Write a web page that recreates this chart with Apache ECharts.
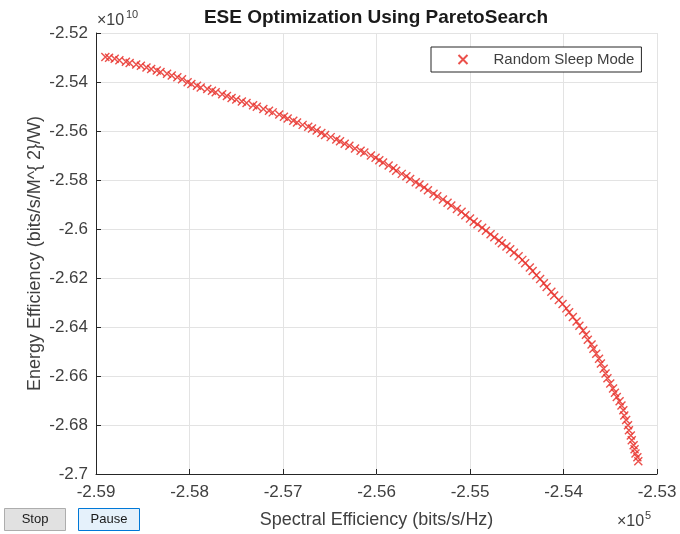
<!DOCTYPE html>
<html>
<head>
<meta charset="utf-8">
<title>ESE Optimization Using ParetoSearch</title>
<script src="https://cdn.jsdelivr.net/npm/echarts@6.0.0/dist/echarts.min.js"></script>
<style>
  html, body { margin: 0; padding: 0; background: #fff; }
  #paretoChart { width: 680px; height: 534px; }
</style>
</head>
<body>
<div id="paretoChart"></div>
<script>
// spectral efficiency (x 10^5 bits/s/Hz)
var spectralEff = [
  -2.5890, -2.5886, -2.5880, -2.5875, -2.5868, -2.5864, -2.5857, -2.5852, -2.5846, -2.5841,
  -2.5835, -2.5831, -2.5824, -2.5819, -2.5813, -2.5808,
  -2.5802, -2.5798, -2.5792, -2.5788, -2.5781, -2.5776, -2.5772, -2.5765, -2.5760,
  -2.5755, -2.5750, -2.5744, -2.5739, -2.5732, -2.5728, -2.5721, -2.5715, -2.5711, -2.5704,
  -2.5699, -2.5695, -2.5689, -2.5685, -2.5679, -2.5673, -2.5669, -2.5664,
  -2.5659, -2.5655, -2.5649, -2.5643, -2.5639, -2.5634, -2.5629, -2.5623, -2.5617, -2.5613, -2.5606, -2.5601,
  -2.5597, -2.5593, -2.5587, -2.5582, -2.5579, -2.5573, -2.5568, -2.5564, -2.5558, -2.5554,
  -2.5549, -2.5545, -2.5539, -2.5535, -2.5529, -2.5524, -2.5520, -2.5514, -2.5509, -2.5505, -2.5500,
  -2.5496, -2.5492, -2.5487, -2.5483, -2.5478, -2.5474, -2.5469, -2.5466,
  -2.5461, -2.5457, -2.5453, -2.5448,
  -2.5444, -2.5441, -2.5436, -2.5433, -2.5429, -2.5425,
  -2.5421, -2.5418, -2.5413, -2.5410, -2.5405, -2.5401,
  -2.5397, -2.5394, -2.5390, -2.5386, -2.5383,
  -2.5379, -2.5376, -2.5374, -2.5370, -2.5368,
  -2.5365, -2.5362, -2.5360, -2.5357,
  -2.5355, -2.5353, -2.5350, -2.5347,
  -2.5345, -2.5343, -2.5340, -2.5338,
  -2.5336, -2.5335, -2.5333, -2.5331,
  -2.5330, -2.5328, -2.5327, -2.5325,
  -2.5324, -2.5323, -2.5321, -2.5320
];

// energy efficiency (x 10^10 bits/s/M^2/W)
var energyEff = [
  -2.5298, -2.5301, -2.5305, -2.5311, -2.5317, -2.5322, -2.5329, -2.5334, -2.5341, -2.5347,
  -2.5353, -2.5359, -2.5366, -2.5373, -2.5381, -2.5389,
  -2.5401, -2.5408, -2.5415, -2.5422, -2.5429, -2.5436, -2.5442, -2.5450, -2.5457,
  -2.5465, -2.5471, -2.5480, -2.5486, -2.5495, -2.5501, -2.5510, -2.5517, -2.5524, -2.5533,
  -2.5542, -2.5549, -2.5558, -2.5565, -2.5575, -2.5583, -2.5590, -2.5598,
  -2.5608, -2.5616, -2.5625, -2.5635, -2.5642, -2.5652, -2.5660, -2.5671, -2.5681, -2.5688, -2.5700, -2.5709,
  -2.5719, -2.5729, -2.5741, -2.5752, -2.5762, -2.5775, -2.5785, -2.5796, -2.5809, -2.5818,
  -2.5831, -2.5842, -2.5856, -2.5866, -2.5880, -2.5893, -2.5904, -2.5918, -2.5930, -2.5944, -2.5957,
  -2.5970, -2.5981, -2.5995, -2.6007, -2.6021, -2.6034, -2.6047, -2.6058,
  -2.6071, -2.6083, -2.6097, -2.6111,
  -2.6126, -2.6140, -2.6157, -2.6171, -2.6189, -2.6204,
  -2.6221, -2.6237, -2.6256, -2.6271, -2.6290, -2.6306,
  -2.6324, -2.6340, -2.6359, -2.6378, -2.6395,
  -2.6414, -2.6432, -2.6452, -2.6471, -2.6489,
  -2.6509, -2.6530, -2.6549, -2.6570,
  -2.6590, -2.6609, -2.6631, -2.6651,
  -2.6668, -2.6686, -2.6703, -2.6720,
  -2.6740, -2.6761, -2.6780, -2.6801,
  -2.6821, -2.6843, -2.6862, -2.6883,
  -2.6899, -2.6916, -2.6932, -2.6948
];

var xTicks = { min: -2.59, max: -2.53, step: 0.01 };
var yTicks = { min: -2.7, max: -2.52, step: 0.02 };

var points = spectralEff.map(function (x, i) {
  return [x, energyEff[i]];
});

var crossMark = 'path://M0,0L10,10M10,0L0,10';
var textColor = '#404040';
var fontName = '"Liberation Sans", Arial, Helvetica, sans-serif';

function tickText(v) {
  return String(parseFloat(v.toFixed(2)));
}

var myChart = echarts.init(document.getElementById('paretoChart'));
myChart.setOption({
  animation: false,
  textStyle: { fontFamily: fontName },
  grid: {
    left: 96,
    right: 23,
    top: 33,
    bottom: 58,
    containLabel: false
  },
  legend: {
    left: 431,
    top: 47,
    padding: [5, 7, 5, 25],
    itemWidth: 9,
    itemHeight: 9,
    backgroundColor: '#fff',
    borderColor: '#262626',
    borderWidth: 1,
    borderRadius: 0,
    textStyle: {
      fontSize: 15,
      color: textColor,
      fontFamily: fontName,
      padding: [0, 0, 0, 21]
    },
    data: ['Random Sleep Mode']
  },
  xAxis: {
    type: 'value',
    min: xTicks.min,
    max: xTicks.max,
    interval: xTicks.step,
    name: 'Spectral Efficiency (bits/s/Hz)',
    nameLocation: 'middle',
    nameGap: 37,
    nameMoveOverlap: false,
    nameTextStyle: { fontSize: 18, color: textColor, fontFamily: fontName },
    axisLine: { show: true, onZero: false, lineStyle: { color: '#262626', width: 1 } },
    axisTick: { show: true, inside: true, length: 5, lineStyle: { color: '#262626' } },
    axisLabel: {
      margin: 10,
      fontSize: 17,
      color: textColor,
      fontFamily: fontName,
      formatter: tickText
    },
    splitLine: { show: true, lineStyle: { color: '#e3e3e3', width: 1 } }
  },
  yAxis: {
    type: 'value',
    min: yTicks.min,
    max: yTicks.max,
    interval: yTicks.step,
    name: 'Energy Efficiency (bits/s/M^{ 2}/W)',
    nameLocation: 'middle',
    nameGap: 52,
    nameMoveOverlap: false,
    nameTextStyle: { fontSize: 18, color: textColor, fontFamily: fontName },
    axisLine: { show: true, onZero: false, lineStyle: { color: '#262626', width: 1 } },
    axisTick: { show: true, inside: true, length: 5, lineStyle: { color: '#262626' } },
    axisLabel: {
      margin: 8,
      fontSize: 17,
      color: textColor,
      fontFamily: fontName,
      formatter: tickText
    },
    splitLine: { show: true, lineStyle: { color: '#e3e3e3', width: 1 } }
  },
  series: [
    {
      name: 'Random Sleep Mode',
      type: 'scatter',
      symbol: crossMark,
      symbolSize: 8,
      itemStyle: {
        color: 'none',
        borderColor: '#e8312c',
        borderWidth: 1.4,
        opacity: 0.85
      },
      emphasis: { disabled: true },
      data: points
    }
  ],
  graphic: [
    {
      type: 'text',
      x: 376,
      y: 8,
      style: {
        text: 'ESE Optimization Using ParetoSearch',
        fontSize: 19,
        fontWeight: 'bold',
        fontFamily: fontName,
        fill: '#1a1a1a',
        textAlign: 'center'
      }
    },
    // axis exponents
    { type: 'text', x: 97, y: 13, style: { text: '\u00d710', fontSize: 16, fontFamily: fontName, fill: textColor } },
    { type: 'text', x: 126, y: 9, style: { text: '10', fontSize: 11, fontFamily: fontName, fill: textColor } },
    { type: 'text', x: 617, y: 514, style: { text: '\u00d710', fontSize: 16, fontFamily: fontName, fill: textColor } },
    { type: 'text', x: 645, y: 510, style: { text: '5', fontSize: 11, fontFamily: fontName, fill: textColor } },
    // Stop / Pause buttons
    {
      type: 'rect',
      shape: { x: 4.5, y: 508.5, width: 61, height: 22 },
      style: { fill: '#e1e1e1', stroke: '#adadad', lineWidth: 1 }
    },
    {
      type: 'text',
      x: 35,
      y: 513,
      style: { text: 'Stop', fontSize: 13, fontFamily: fontName, fill: '#1a1a1a', textAlign: 'center' }
    },
    {
      type: 'rect',
      shape: { x: 78.5, y: 508.5, width: 61, height: 22 },
      style: { fill: '#e5f1fb', stroke: '#0078d7', lineWidth: 1 }
    },
    {
      type: 'text',
      x: 109,
      y: 513,
      style: { text: 'Pause', fontSize: 13, fontFamily: fontName, fill: '#1a1a1a', textAlign: 'center' }
    }
  ]
});
</script>
</body>
</html>
